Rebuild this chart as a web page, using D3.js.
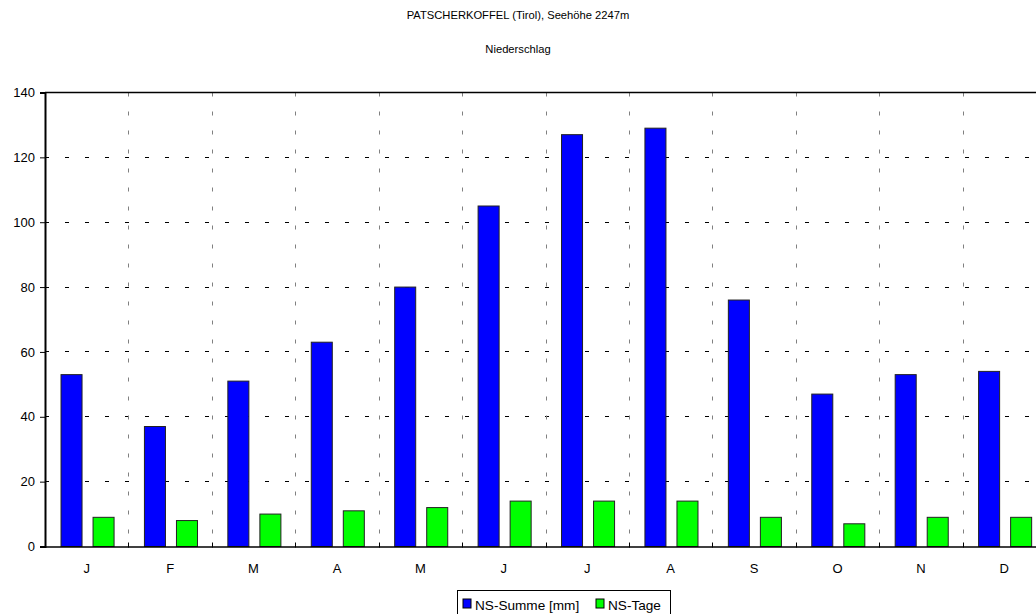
<!DOCTYPE html>
<html>
<head>
<meta charset="utf-8">
<script src="https://cdn.jsdelivr.net/npm/d3@7"></script>
<style>
  body { margin: 0; background: #fff; }
  svg { display: block; font-family: "Liberation Sans", Arial, sans-serif; }
</style>
</head>
<body>
<div id="chart"></div>
<script>
const months = ["J", "F", "M", "A", "M", "J", "J", "A", "S", "O", "N", "D"]
const nsSumme = [53, 37, 51, 63, 80, 105, 127, 129, 76, 47, 53, 54]
const nsTage = [9, 8, 10, 11, 12, 14, 14, 14, 9, 7, 9, 9]
const yTicks = [0, 20, 40, 60, 80, 100, 120, 140]

const W = 1036, H = 614
const margin = { top: 92.5, left: 45, bottom: 67.5 }
const plotW = 1001, plotH = H - margin.top - margin.bottom
const FONT = "Liberation Sans, Arial, sans-serif"

const svg = d3.select("#chart").append("svg").attr("width", W).attr("height", H)

// Titel
svg.append("text").attr("x", 518).attr("y", 19).attr("text-anchor", "middle")
  .attr("font-size", 11.2).text("PATSCHERKOFFEL (Tirol), Seehöhe 2247m")
svg.append("text").attr("x", 518).attr("y", 53).attr("text-anchor", "middle")
  .attr("font-size", 11.2).text("Niederschlag")

const g = svg.append("g").attr("transform", `translate(${margin.left},${margin.top})`)

const x = d3.scaleBand().domain(d3.range(12)).range([0, plotW])
const y = d3.scaleLinear().domain([0, 140]).range([plotH, 0])
const bw = x.bandwidth()

// Gitterlinien horizontal
g.append("g").selectAll("line").data(yTicks.slice(1, -1)).join("line")
  .attr("x1", 0).attr("x2", plotW).attr("y1", d => y(d)).attr("y2", d => y(d))
  .attr("stroke", "#000").attr("stroke-width", 1).attr("stroke-dasharray", "4,16")
  .attr("shape-rendering", "crispEdges")

// Gitterlinien vertikal
g.append("g").selectAll("line").data(d3.range(1, 12)).join("line")
  .attr("x1", d => Math.round(x(d)) + 0.5).attr("x2", d => Math.round(x(d)) + 0.5)
  .attr("y1", 0).attr("y2", plotH)
  .attr("stroke", "#808080").attr("stroke-width", 1).attr("stroke-dasharray", "4,15")

// Oberer Rand
g.append("line").attr("x1", 0).attr("x2", plotW).attr("y1", 0).attr("y2", 0)
  .attr("stroke", "#000").attr("stroke-width", 1.5)

// Balken
const blueOff = bw * 0.192, greenOff = bw * 0.576, barW = bw * 0.252
g.append("g").selectAll("rect").data(nsSumme).join("rect")
  .attr("x", (d, i) => x(i) + blueOff).attr("width", barW)
  .attr("y", d => y(d)).attr("height", d => plotH - y(d))
  .attr("fill", "#0000ff").attr("stroke", "#222").attr("stroke-width", 1)
g.append("g").selectAll("rect").data(nsTage).join("rect")
  .attr("x", (d, i) => x(i) + greenOff).attr("width", barW)
  .attr("y", d => y(d)).attr("height", d => plotH - y(d))
  .attr("fill", "#00ff00").attr("stroke", "#222").attr("stroke-width", 1)

// Y-Achse
const yAxis = g.append("g")
  .call(d3.axisLeft(y).tickValues(yTicks).tickSize(5).tickPadding(5))
yAxis.attr("font-size", 13).attr("font-family", FONT)
yAxis.select(".domain").attr("stroke-width", 2)
yAxis.selectAll("text").attr("fill", "#000")

// X-Achse
const xAxis = g.append("g").attr("transform", `translate(0,${plotH})`)
  .call(d3.axisBottom(x).tickFormat(i => months[i]).tickSize(0).tickPadding(17))
xAxis.attr("font-size", 13).attr("font-family", FONT)
xAxis.select(".domain").attr("stroke-width", 1.5)
g.append("g").selectAll("line").data(d3.range(1, 12)).join("line")
  .attr("x1", d => Math.round(x(d)) + 0.5).attr("x2", d => Math.round(x(d)) + 0.5)
  .attr("y1", plotH - 4).attr("y2", plotH + 1).attr("stroke", "#000")

// Legende
const leg = svg.append("g").attr("transform", "translate(457.5,590.5)")
leg.append("rect").attr("width", 213).attr("height", 30).attr("fill", "#fff").attr("stroke", "#000")
const items = [{ label: "NS-Summe [mm]", color: "#0000ff", x: 5.5 }, { label: "NS-Tage", color: "#00ff00", x: 138.5 }]
items.forEach(it => {
  leg.append("rect").attr("x", it.x).attr("y", 8.5).attr("width", 8).attr("height", 9)
    .attr("fill", it.color).attr("stroke", "#000")
  leg.append("text").attr("x", it.x + 12).attr("y", 19.5).attr("font-size", 13.6).text(it.label)
})
</script>
</body>
</html>
